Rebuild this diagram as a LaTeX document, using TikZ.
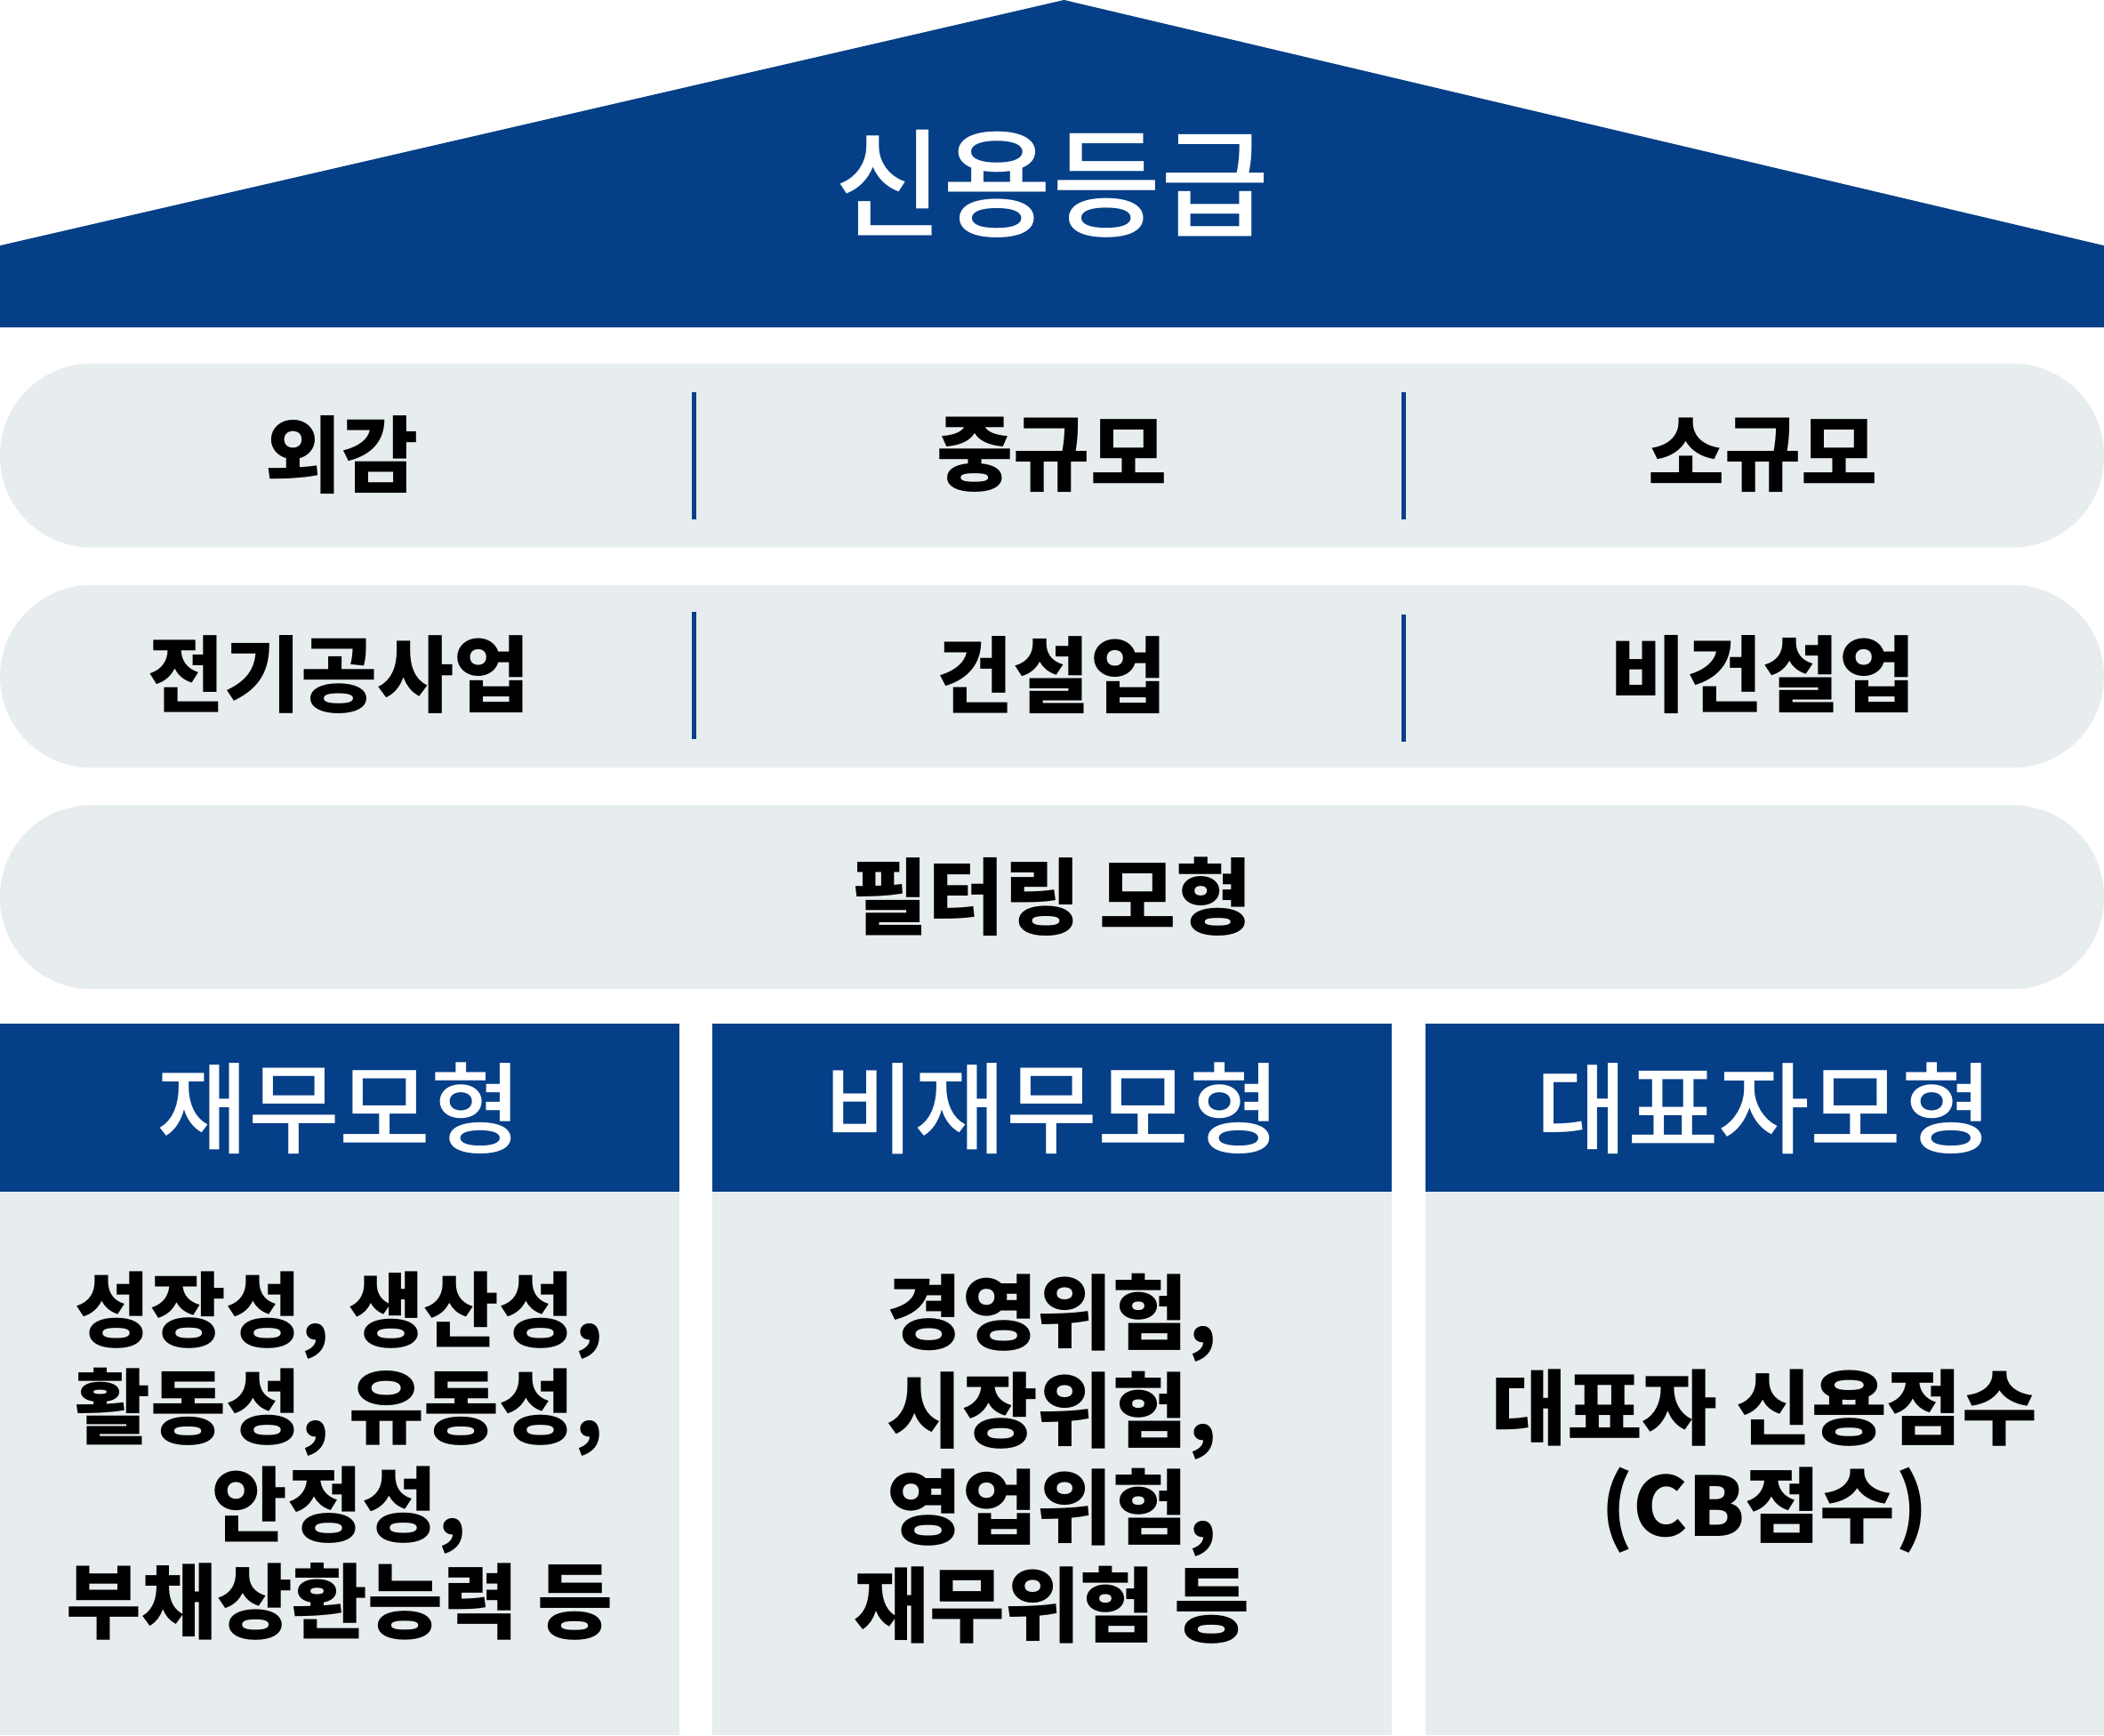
\documentclass[tikz,border=0pt]{standalone}
\usepackage{fontspec}
\setmainfont{Noto Sans CJK KR}
\newfontfamily\medfont{Noto Sans CJK KR}[UprightFont=* Medium]
\usetikzlibrary{positioning,calc}
\definecolor{navy}{HTML}{053F87}
\definecolor{mist}{HTML}{E7ECEF}

\begin{document}
\begin{tikzpicture}[x=0.5pt,y=-0.5pt,
	pill/.style={fill=mist, rounded corners=34pt},
	headbox/.style={fill=navy},
	bodybox/.style={fill=mist},
	divider/.style={draw=navy, line width=1.6pt},
	rowtext/.style={font=\fontsize{31}{36}\selectfont\bfseries, text=black},
	headtext/.style={font=\fontsize{37}{42}\selectfont\medfont, text=white},
	bodytext/.style={font=\fontsize{30.5}{36.3}\selectfont\bfseries, text=black, align=center}]
	\useasboundingbox (0,0) rectangle (1568,1293);

	\fill[navy] (0,183) -- (793,0) -- (1568,183) -- (1568,244) -- (0,244) -- cycle;
	\node[font=\fontsize{44}{50}\selectfont\medfont, text=white] (title) at (784,137) {신용등급};

	\fill[pill] (0,271) rectangle (1568,408);
	\node[rowtext] (r11) at (255,339) {외감};
	\node[rowtext] (r12) at (784,339) {중규모};
	\node[rowtext] (r13) at (1314,339) {소규모};
	\draw[divider] (517,292) -- (517,387);
	\draw[divider] (1046,292) -- (1046,387);

	\fill[pill] (0,436) rectangle (1568,572);
	\node[rowtext] (r21) at (253,503) {전기공사업};
	\node[rowtext] (r22) at (784,503) {건설업};
	\node[rowtext] (r23) at (1314,503) {비건설업};
	\draw[divider] (517,456) -- (517,551);
	\draw[divider] (1046,458) -- (1046,553);

	\fill[pill] (0,600) rectangle (1568,737);
	\node[rowtext] (r31) at (784,668) {필터링 모형};

	\fill[headbox] (0,763) rectangle (506,888);
	\fill[headbox] (531,763) rectangle (1037,888);
	\fill[headbox] (1062,763) rectangle (1568,888);
	\fill[bodybox] (0,888) rectangle (506,1293);
	\fill[bodybox] (531,888) rectangle (1037,1293);
	\fill[bodybox] (1062,888) rectangle (1568,1293);

	\node[headtext] (h1) at (253,826) {재무모형};
	\node[headtext] (h2) at (784,826) {비재무모형};
	\node[headtext] (h3) at (1315,826) {대표자모형};

	\node[bodytext] (b1) at (253,1085) {성장성, 생산성,\\활동성, 유동성,\\안정성,\\부채상환능력 등};
	\node[bodytext] (b2) at (784,1087) {경영위험,\\시장위험,\\영업위험,\\재무위험 등};
	\node[bodytext] (b3) at (1315,1089) {대표자 신용점수\\(CB점수)};
\end{tikzpicture}
\end{document}
